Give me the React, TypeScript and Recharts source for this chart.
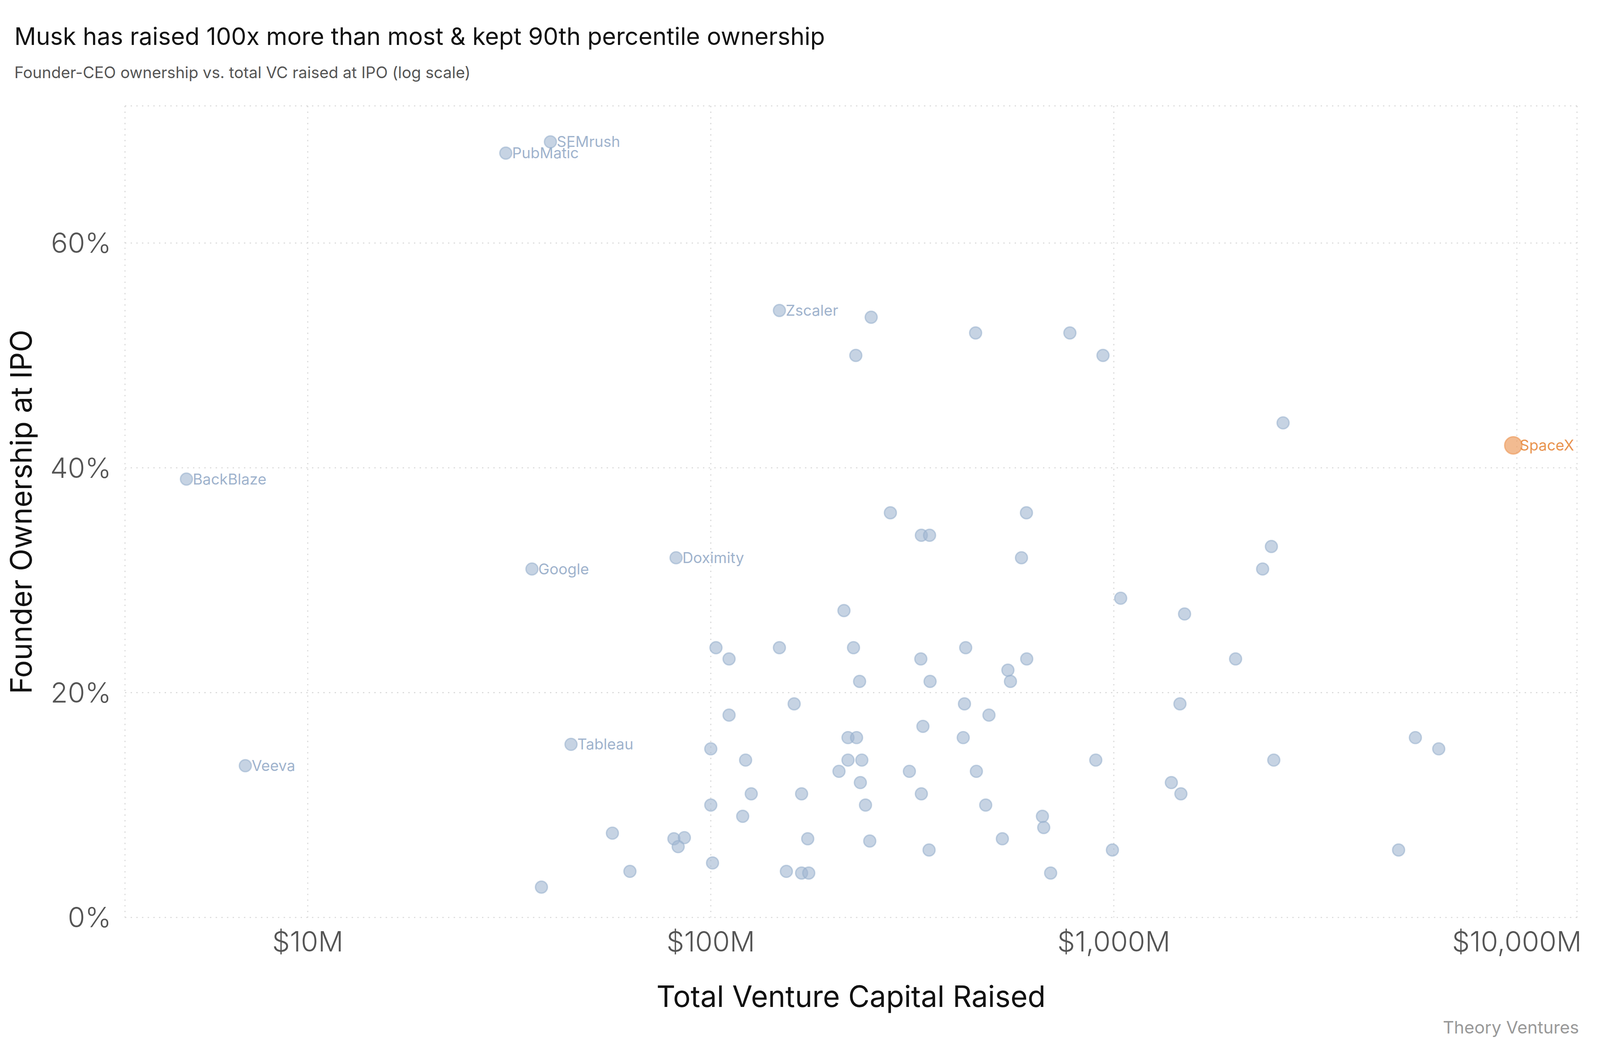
import React from 'react';
import { ScatterChart, Scatter, XAxis, YAxis, CartesianGrid } from 'recharts';

// labelled companies
const LABELED_NAMES = ['PubMatic', 'SEMrush', 'Zscaler', 'BackBlaze', 'Google', 'Doximity', 'Tableau', 'Veeva'];
const LABELED_RAISED = [31, 40, 148, 5, 36, 82, 45, 7];
const LABELED_OWNERSHIP = [68, 69, 54, 39, 31, 32, 15.4, 13.5];

// everyone else ($M raised, founder % at IPO)
const OTHER_RAISED = [
  250, 229, 454, 778, 940, 2630, 279, 333, 349, 607, 590, 2460, 2340, 1040, 214, 1498,
  103, 111, 148, 226, 332, 429, 608, 546, 554, 234, 350, 2005, 161, 426, 1459, 111, 490,
  336, 219, 230, 423, 5600, 6400, 100, 122, 219, 237, 902, 2494, 208, 311, 456, 235, 1389,
  126, 168, 333, 1467, 100, 242, 481, 120, 665, 670, 57, 81, 86, 83, 174, 529, 248, 348,
  992, 5088, 101, 63, 154, 168, 175, 697, 38,
];
const OTHER_OWNERSHIP = [
  53.4, 50, 52, 52, 50, 44, 36, 34, 34, 36, 32, 33, 31, 28.4, 27.3, 27,
  24, 23, 24, 24, 23, 24, 23, 22, 21, 21, 21, 23, 19, 19, 19, 18, 18,
  17, 16, 16, 16, 16, 15, 15, 14, 14, 14, 14, 14, 13, 13, 13, 12, 12,
  11, 11, 11, 11, 10, 10, 10, 9, 9, 8, 7.5, 7, 7.1, 6.3, 7, 7, 6.8, 6,
  6, 6, 4.85, 4.1, 4.1, 3.95, 3.95, 3.95, 2.7,
];

const SPACEX_NAME = ['SpaceX'];
const SPACEX_RAISED = [9800];
const SPACEX_OWNERSHIP = [42];

const X_TICKS = [10, 100, 1000, 10000];
const Y_TICKS = [0, 20, 40, 60];

const FONT = 'Inter, "Noto Sans", sans-serif';
const W = 4800;
const H = 2700;

const otherData = OTHER_RAISED.map((vc, i) => ({ vc, pct: OTHER_OWNERSHIP[i], name: '' }));
const labeledData = LABELED_NAMES.map((name, i) => ({ name, vc: LABELED_RAISED[i], pct: LABELED_OWNERSHIP[i] }));
const spacexData = SPACEX_NAME.map((name, i) => ({ name, vc: SPACEX_RAISED[i], pct: SPACEX_OWNERSHIP[i] }));

const makeDot = (r: number, fill: string, stroke: string, textColor: string, s: number) => (props: any) => {
  const { cx, cy, payload } = props;
  if (cx == null || cy == null) return <g />;
  return (
    <g>
      <circle cx={cx} cy={cy} r={r * s} fill={fill} stroke={stroke} strokeWidth={4 * s} />
      {payload.name ? (
        <text x={cx + 19 * s} y={cy} dy="0.35em" fill={textColor} fontSize={45 * s} fontFamily={FONT}>
          {payload.name}
        </text>
      ) : null}
    </g>
  );
};

const fmtMoney = (v: number) => `$${v.toLocaleString('en-US')}M`;
const fmtPct = (v: number) => `${v}%`;

export default function App() {
  // the window the page gets can differ from 4800x2700, so lay out in proportion to it
  const vw = Math.min(window.innerWidth || W, W);
  const vh = Math.min(window.innerHeight || H, H);
  const kx = vw / W;
  const ky = vh / H;
  const s = Math.min(kx, ky); // font / marker scale

  const blueDot = makeDot(18, 'rgba(160,182,208,0.6)', 'rgba(150,174,204,0.55)', '#9fb3cd', s);
  const orangeDot = makeDot(26, 'rgba(236,158,98,0.7)', 'rgba(236,150,85,0.6)', '#e9944f', s);

  const tickFont = 84 * s;
  const plotBottom = 2348 * ky;

  return (
    <div style={{ position: 'absolute', left: 0, top: 0, width: vw, height: vh, overflow: 'hidden', background: '#fff', fontFamily: FONT }}>
      <ScatterChart
        width={vw}
        height={vh}
        margin={{ top: 271 * ky, right: 69 * kx, bottom: (H - 2348) * ky - 120, left: 375 * kx - 300 }}
      >
        <CartesianGrid stroke="#d6d6d6" strokeWidth={3 * s} strokeDasharray={`${4 * s} ${13 * s}`} />
        <XAxis
          type="number"
          dataKey="vc"
          scale="log"
          domain={[3.52, 14100]}
          allowDataOverflow
          ticks={X_TICKS}
          tickFormatter={fmtMoney}
          axisLine={false}
          tickLine={false}
          tickSize={0}
          tickMargin={2435 * ky - plotBottom - 0.71 * tickFont}
          height={120}
          tick={{ fontSize: tickFont, fill: '#555', fontFamily: FONT, fontWeight: 300 }}
        />
        <YAxis
          type="number"
          dataKey="pct"
          domain={[0, 72.2]}
          allowDataOverflow
          ticks={Y_TICKS}
          tickFormatter={fmtPct}
          axisLine={false}
          tickLine={false}
          tickSize={0}
          tickMargin={41 * kx}
          width={300}
          tick={{ fontSize: tickFont, fill: '#555', fontFamily: FONT, fontWeight: 300 }}
        />
        <Scatter data={otherData} shape={blueDot} isAnimationActive={false} />
        <Scatter data={labeledData} shape={blueDot} isAnimationActive={false} />
        <Scatter data={spacexData} shape={orangeDot} isAnimationActive={false} />
      </ScatterChart>
      <svg width={vw} height={vh} style={{ position: 'absolute', left: 0, top: 0, pointerEvents: 'none' }}>
        <text x={43 * kx} y={115 * ky} fontSize={72 * s} fill="#111" fontFamily={FONT}>
          Musk has raised 100x more than most &amp; kept 90th percentile ownership
        </text>
        <text x={43 * kx} y={200 * ky} fontSize={47.5 * s} fill="#555" fontFamily={FONT}>
          Founder-CEO ownership vs. total VC raised at IPO (log scale)
        </text>
        <text
          x={95 * kx}
          y={1310 * ky}
          fontSize={88 * s}
          fill="#111"
          fontFamily={FONT}
          textAnchor="middle"
          transform={`rotate(-90 ${95 * kx} ${1310 * ky})`}
        >
          Founder Ownership at IPO
        </text>
        <text x={2553 * kx} y={2577 * ky} fontSize={88 * s} fill="#111" fontFamily={FONT} textAnchor="middle">
          Total Venture Capital Raised
        </text>
        <text x={4737 * kx} y={2645 * ky} fontSize={52 * s} fill="#999" fontFamily={FONT} textAnchor="end">
          Theory Ventures
        </text>
      </svg>
    </div>
  );
}
